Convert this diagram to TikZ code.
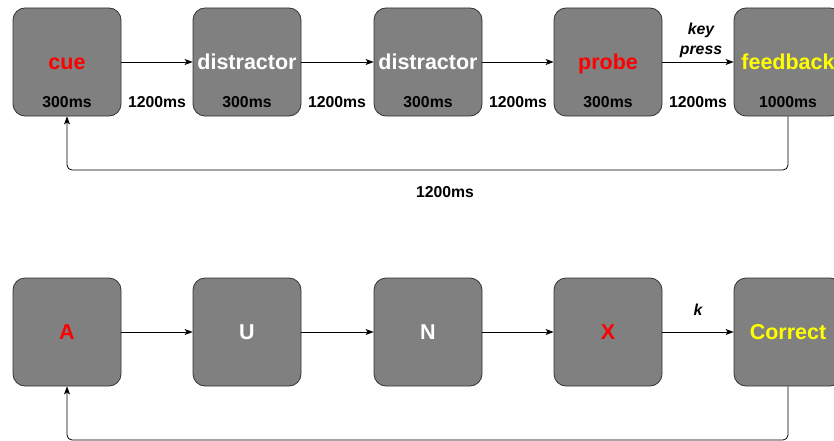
\documentclass[tikz,border=0pt]{standalone}
\usepackage{fontspec}
\setmainfont{Liberation Sans}
\usetikzlibrary{arrows.meta}
\definecolor{boxgray}{HTML}{808080}
\definecolor{fbyellow}{HTML}{FFFF00}
\begin{document}
\begin{tikzpicture}[x=1pt,y=-1pt,
  stimbox/.style={draw=black!80, line width=0.8pt, fill=boxgray, rounded corners=12pt,
    minimum width=108pt, minimum height=108pt, inner sep=0pt},
  big/.style={font=\fontsize{21.5}{24}\selectfont\bfseries, anchor=base},
  small/.style={font=\fontsize{15.8}{18}\selectfont\bfseries},
  conn/.style={line width=0.8pt, -{Stealth[length=8pt,width=6pt,inset=2pt]}},
  loop/.style={line width=0.8pt, rounded corners=5pt, -{Stealth[length=8pt,width=6pt,inset=2pt]}}
]
\useasboundingbox (0,0) rectangle (834,441);
\clip (0,0) rectangle (834,441);
\fill[white] (0,0) rectangle (834,441);

% top row
\node[stimbox] (b1) at (67,62) {};
\node[stimbox] (b2) at (247,62) {};
\node[stimbox] (b3) at (428,62) {};
\node[stimbox] (b4) at (608,62) {};
\node[stimbox] (b5) at (788,62) {};
\node[big, text=red] (t1) at (67,69.5) {cue};
\node[big, text=white] (t2) at (247,69.5) {distractor};
\node[big, text=white] (t3) at (428,69.5) {distractor};
\node[big, text=red] (t4) at (608,69.5) {probe};
\node[big, text=fbyellow] (t5) at (788,69.5) {feedback};
\node[small] (d1) at (67,102) {300ms};
\node[small] (d2) at (247,102) {300ms};
\node[small] (d3) at (428,102) {300ms};
\node[small] (d4) at (608,102) {300ms};
\node[small] (d5) at (788,102) {1000ms};
\node[small] (i1) at (157,102) {1200ms};
\node[small] (i2) at (337,102) {1200ms};
\node[small] (i3) at (518,102) {1200ms};
\node[small] (i4) at (698,102) {1200ms};
\node[small, font=\fontsize{15.8}{20}\selectfont\bfseries\itshape, align=center] (kp) at (701,40) {key\\press};
\node[small] (il) at (445,192) {1200ms};
\draw[conn] (b1) -- (b2);
\draw[conn] (b2) -- (b3);
\draw[conn] (b3) -- (b4);
\draw[conn] (b4) -- (b5);
\coordinate (c1) at (788,170);
\draw[loop] (b5.south) -- (c1) -| (b1.south);

% bottom row
\node[stimbox] (e1) at (67,332) {};
\node[stimbox] (e2) at (247,332) {};
\node[stimbox] (e3) at (428,332) {};
\node[stimbox] (e4) at (608,332) {};
\node[stimbox] (e5) at (788,332) {};
\node[big, text=red] (u1) at (67,339.5) {A};
\node[big, text=white] (u2) at (247,339.5) {U};
\node[big, text=white] (u3) at (428,339.5) {N};
\node[big, text=red] (u4) at (608,339.5) {X};
\node[big, text=fbyellow] (u5) at (788,339.5) {Correct};
\node[small, font=\fontsize{15.8}{18}\selectfont\bfseries\itshape] (kk) at (698,310) {k};
\draw[conn] (e1) -- (e2);
\draw[conn] (e2) -- (e3);
\draw[conn] (e3) -- (e4);
\draw[conn] (e4) -- (e5);
\coordinate (c2) at (788,440);
\draw[loop] (e5.south) -- (c2) -| (e1.south);
\end{tikzpicture}
\end{document}
